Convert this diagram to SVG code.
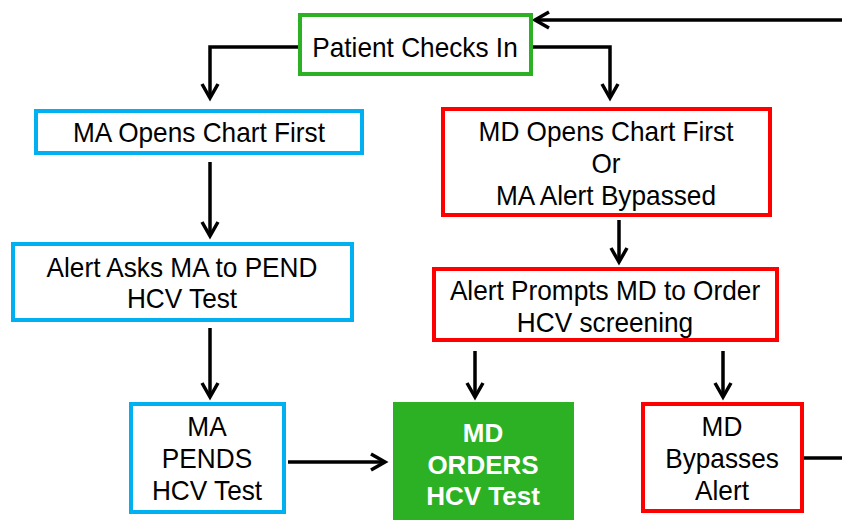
<svg xmlns="http://www.w3.org/2000/svg" width="842" height="520" viewBox="0 0 842 520">
<defs>
<marker id="arr" markerUnits="userSpaceOnUse" markerWidth="30" markerHeight="30" refX="0" refY="0" viewBox="-20 -15 30 30" orient="auto" overflow="visible">
<path d="M-14,-8 L0,0 L-14,8" fill="none" stroke="#000" stroke-width="3.5"/>
</marker>
<style>
.t{font-family:"Liberation Sans",Arial,sans-serif;font-size:28.5px;fill:#000;text-anchor:middle}
.w{font-family:"Liberation Sans",Arial,sans-serif;font-size:26px;font-weight:bold;fill:#fff;text-anchor:middle}
.g{fill:#fff;stroke:#2CB124;stroke-width:4}
.b{fill:#fff;stroke:#00B0F0;stroke-width:4}
.r{fill:#fff;stroke:#FF0000;stroke-width:4}
.c{fill:none;stroke:#000;stroke-width:3.5}
</style>
</defs>
<g id="connectors">
<path class="c" d="M298,47 H210 V98" marker-end="url(#arr)"/>
<path class="c" d="M532,47 H610 V98" marker-end="url(#arr)"/>
<path class="c" d="M210,162 V236" marker-end="url(#arr)"/>
<path class="c" d="M619,220 V262" marker-end="url(#arr)"/>
<path class="c" d="M210,328 V397" marker-end="url(#arr)"/>
<path class="c" d="M475,351 V397" marker-end="url(#arr)"/>
<path class="c" d="M723,351 V397" marker-end="url(#arr)"/>
<path class="c" stroke-width="4" d="M288,462 H385" marker-end="url(#arr)"/>
<path class="c" stroke-width="4" d="M803,458 H848 V20 H535" marker-end="url(#arr)"/>
</g>
<g id="patient-checks-in">
<rect class="g" x="300" y="15" width="231" height="59"/>
<g transform="translate(415 0) scale(0.92 1)"><text class="t" x="0" y="57">Patient Checks In</text></g>
</g>
<g id="ma-opens-chart">
<rect class="b" x="36" y="111" width="326" height="42"/>
<g transform="translate(199 0) scale(0.92 1)"><text class="t" x="0" y="142">MA Opens Chart First</text></g>
</g>
<g id="md-opens-chart">
<rect class="r" x="443" y="109" width="327" height="106"/>
<g transform="translate(606 0) scale(0.92 1)">
<text class="t" x="0" y="141">MD Opens Chart First</text>
<text class="t" x="0" y="173">Or</text>
<text class="t" x="0" y="205">MA Alert Bypassed</text>
</g>
</g>
<g id="alert-asks-ma">
<rect class="b" x="13" y="244" width="339" height="76"/>
<g transform="translate(182 0) scale(0.92 1)">
<text class="t" x="0" y="277">Alert Asks MA to PEND</text>
<text class="t" x="0" y="308">HCV Test</text>
</g>
</g>
<g id="alert-prompts-md">
<rect class="r" x="434" y="269" width="343" height="71"/>
<g transform="translate(605 0) scale(0.92 1)">
<text class="t" x="0" y="300">Alert Prompts MD to Order</text>
<text class="t" x="0" y="332">HCV screening</text>
</g>
</g>
<g id="ma-pends">
<rect class="b" x="131" y="404" width="153" height="108"/>
<g transform="translate(207 0) scale(0.92 1)">
<text class="t" x="0" y="436">MA</text>
<text class="t" x="0" y="468">PENDS</text>
<text class="t" x="0" y="500">HCV Test</text>
</g>
</g>
<g id="md-orders">
<rect x="393" y="402" width="181" height="120" fill="#2CB124"/>
<text class="w" x="483" y="442">MD</text>
<text class="w" x="483" y="474">ORDERS</text>
<text class="w" x="483" y="505">HCV Test</text>
</g>
<g id="md-bypasses">
<rect class="r" x="643" y="404" width="159" height="107"/>
<g transform="translate(722 0) scale(0.92 1)">
<text class="t" x="0" y="436">MD</text>
<text class="t" x="0" y="468">Bypasses</text>
<text class="t" x="0" y="500">Alert</text>
</g>
</g>
</svg>
